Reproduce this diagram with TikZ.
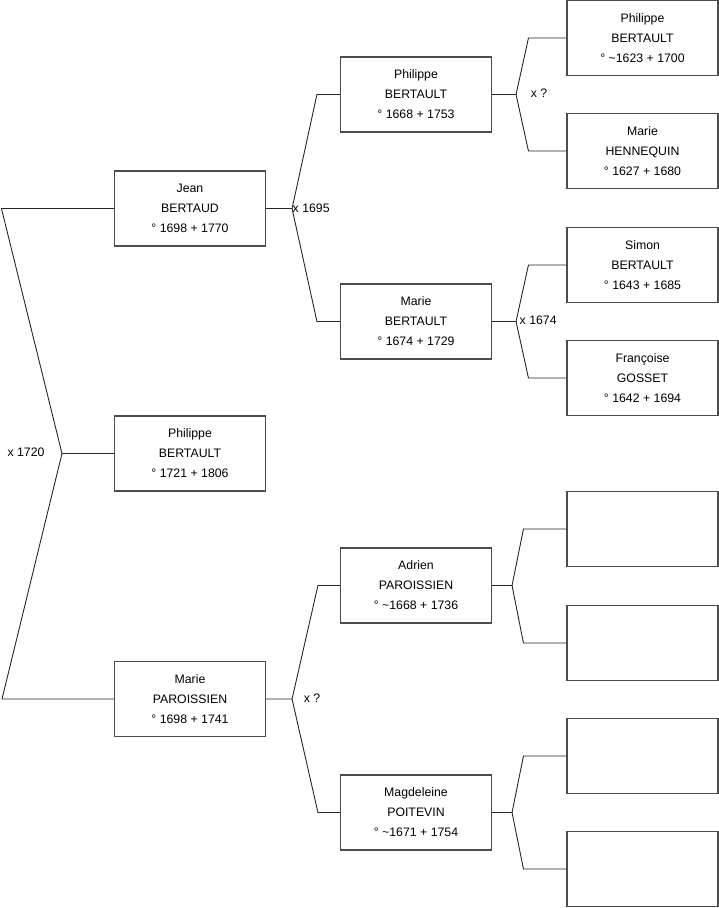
\documentclass[tikz,border=0pt]{standalone}
\usepackage{fontspec}
\setmainfont{Liberation Sans}
\begin{document}
\begin{tikzpicture}[x=1pt,y=-1pt,
  person/.style={draw=black!70, line width=1.1pt, fill=white, minimum width=151pt, minimum height=75pt,
    inner sep=0pt, align=center, font=\fontsize{12.3}{20}\selectfont},
  link/.style={draw=black!85, line width=0.9pt},
  lbl/.style={font=\fontsize{12.3}{15}\selectfont, inner sep=0pt}]
\useasboundingbox (0,0) rectangle (719,908);
% generation 1
\node[person] (g1a) at (190,208.5) {Jean\\BERTAUD\\° 1698 + 1770};
\node[person] (g1b) at (190,453.5) {Philippe\\BERTAULT\\° 1721 + 1806};
\node[person] (g1c) at (190,699) {Marie\\PAROISSIEN\\° 1698 + 1741};
% generation 2
\node[person] (g2a) at (416,94.5) {Philippe\\BERTAULT\\° 1668 + 1753};
\node[person] (g2b) at (416,321.5) {Marie\\BERTAULT\\° 1674 + 1729};
\node[person] (g2c) at (416,585.5) {Adrien\\PAROISSIEN\\° \textasciitilde1668 + 1736};
\node[person] (g2d) at (416,812.5) {Magdeleine\\POITEVIN\\° \textasciitilde1671 + 1754};
% generation 3
\node[person] (g3a) at (642.5,38) {Philippe\\BERTAULT\\° \textasciitilde1623 + 1700};
\node[person] (g3b) at (642.5,151) {Marie\\HENNEQUIN\\° 1627 + 1680};
\node[person] (g3c) at (642.5,265) {Simon\\BERTAULT\\° 1643 + 1685};
\node[person] (g3d) at (642.5,378) {Françoise\\GOSSET\\° 1642 + 1694};
\node[person] (g3e) at (642.5,529) {};
\node[person] (g3f) at (642.5,643) {};
\node[person] (g3g) at (642.5,756) {};
\node[person] (g3h) at (642.5,869) {};
% left connector (children of couple x 1720)
\draw[link] (g1a.west) -- ++(-112.5,0) coordinate (la) -- (62,453.5) coordinate (lj) -- (g1b.west);
\draw[link] (lj) -- (2,699) coordinate (lb) -- (g1c.west);
\node[lbl] (m0) at (26,452) {x 1720};
% Jean's parents
\draw[link] (g1a.east) -- ++(26,0) coordinate (ja) -- ([xshift=-23pt]g2a.west) -- (g2a.west);
\draw[link] (ja) -- ([xshift=-23pt]g2b.west) -- (g2b.west);
\node[lbl, anchor=west] (m1) at (292.5,208) {x 1695};
% Marie's parents
\draw[link] (g1c.east) -- ++(26,0) coordinate (ma) -- ([xshift=-22pt]g2c.west) -- (g2c.west);
\draw[link] (ma) -- ([xshift=-22pt]g2d.west) -- (g2d.west);
\node[lbl] (m2) at (312,698) {x ?};
% Philippe's parents
\draw[link] (g2a.east) -- ++(24,0) coordinate (pa) -- ([xshift=-38pt]g3a.west) -- (g3a.west);
\draw[link] (pa) -- ([xshift=-38pt]g3b.west) -- (g3b.west);
\node[lbl] (m3) at (539,93) {x ?};
% Marie (g2b) parents
\draw[link] (g2b.east) -- ++(24,0) coordinate (qa) -- ([xshift=-38pt]g3c.west) -- (g3c.west);
\draw[link] (qa) -- ([xshift=-38pt]g3d.west) -- (g3d.west);
\node[lbl, anchor=west] (m4) at (519.5,320.5) {x 1674};
% Adrien's parents
\draw[link] (g2c.east) -- ++(20,0) coordinate (aa) -- ([xshift=-43pt]g3e.west) -- (g3e.west);
\draw[link] (aa) -- ([xshift=-43pt]g3f.west) -- (g3f.west);
% Magdeleine's parents
\draw[link] (g2d.east) -- ++(20,0) coordinate (da) -- ([xshift=-43pt]g3g.west) -- (g3g.west);
\draw[link] (da) -- ([xshift=-43pt]g3h.west) -- (g3h.west);
\end{tikzpicture}
\end{document}
